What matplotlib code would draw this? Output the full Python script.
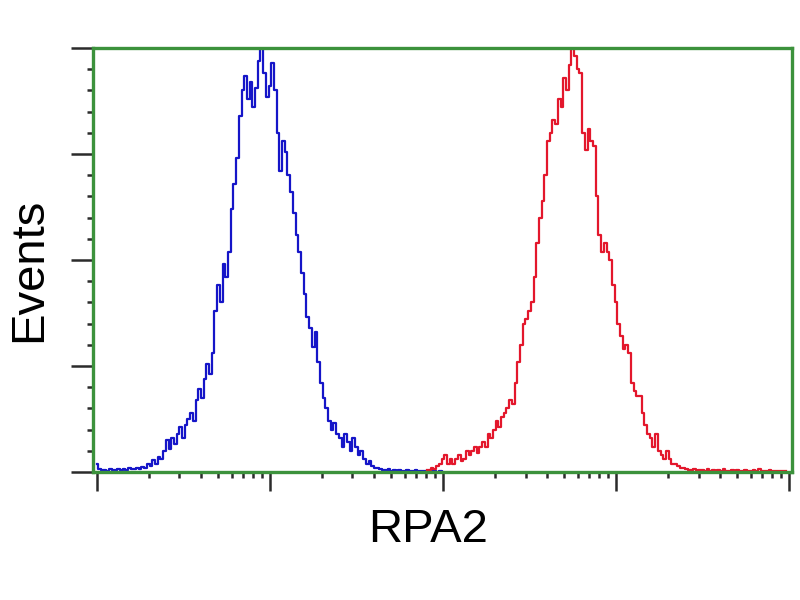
import numpy as np
import matplotlib
matplotlib.use('Agg')
import matplotlib.pyplot as plt
from matplotlib.ticker import LogLocator, MultipleLocator, NullFormatter

# histogram channels (256 channels over 4 decades)
blue_start = 0
blue_counts = [
    2.0, 0.8, 0.4, 0.5, 0.3, 0.6, 0.4, 0.5, 0.8, 0.4,
    0.6, 0.5, 0.9, 0.6, 0.8, 1.0, 0.7, 1.2, 1.0, 2.0,
    1.5, 2.8, 2.0, 3.5, 3.0, 5.0, 7.5, 5.5, 8.0, 6.5,
    9.0, 10.5, 8.0, 11.0, 12.5, 14.0, 12.0, 17.0, 19.5, 17.5,
    22.0, 25.5, 23.0, 28.0, 38.0, 44.0, 40.0, 49.0, 46.0, 52.0,
    62.0, 68.0, 74.0, 84.0, 90.0, 93.5, 88.0, 92.0, 86.0, 90.5,
    97.0, 100.0, 94.0, 88.5, 91.0, 96.5, 90.0, 80.0, 71.0, 78.0,
    75.5, 70.0, 66.0, 61.0, 56.0, 52.0, 47.0, 42.0, 36.5, 34.0,
    29.5, 33.0, 26.0, 21.0, 17.5, 15.0, 12.0, 10.0, 11.5, 9.0,
    8.0, 6.0, 9.0, 7.0, 5.0, 8.0, 6.0, 4.0, 5.0, 3.0,
    2.0, 2.5, 1.5, 1.0, 1.0, 0.8, 0.5, 0.4, 0.6, 0.3,
    0.5, 0.3, 0.4, 0.2, 0.3, 0.4, 0.2, 0.3, 0.5, 0.2,
    0.3, 0.2, 0.3, 0.2, 0.1, 0.2, 0.1, 0.2, 0.1,
]

red_start = 122
red_counts = [
    0.5, 0.4, 1.0, 0.8, 1.5, 2.0, 3.0, 4.0, 2.0, 3.0,
    2.0, 3.0, 4.0, 2.5, 3.0, 5.0, 4.0, 5.0, 6.0, 4.5,
    6.0, 7.0, 6.0, 9.0, 8.0, 10.0, 12.0, 10.5, 13.0, 14.0,
    15.0, 17.0, 16.0, 21.0, 26.0, 30.0, 35.0, 36.0, 38.0, 40.0,
    46.0, 54.0, 60.0, 64.0, 70.0, 78.0, 80.0, 83.0, 82.0, 88.0,
    86.0, 93.0, 90.0, 96.0, 100.0, 98.0, 95.0, 94.0, 80.0, 76.0,
    81.0, 78.0, 77.0, 65.0, 56.0, 52.0, 54.0, 52.0, 50.0, 44.0,
    40.0, 35.0, 32.0, 29.0, 30.0, 28.0, 21.0, 19.0, 18.0, 18.0,
    14.0, 11.0, 9.0, 8.0, 6.0, 9.0, 5.0, 4.0, 3.0, 5.0,
    3.0, 2.0, 2.0, 1.5, 1.0, 1.0, 0.8, 0.5, 0.4, 0.6,
    0.3, 0.5, 0.4, 0.2, 0.6, 0.3, 0.5, 0.2, 0.4, 0.3,
    0.6, 0.2, 0.3, 0.5, 0.2, 0.4, 0.3, 0.2, 0.5, 0.3,
    0.2, 0.4, 0.3, 0.6, 0.2, 0.3, 0.2, 0.4, 0.3, 0.2,
    0.3, 0.2, 0.3, 0.2,
]

def chan_to_val(c):
    return 10 ** (np.asarray(c) / 64.0)

blue_x = chan_to_val(np.arange(len(blue_counts)) + blue_start)
red_x = chan_to_val(np.arange(len(red_counts)) + red_start)

fig = plt.figure(figsize=(8, 6), dpi=100)
ax = fig.add_axes([0.116, 0.2133, 0.874, 0.7067])

ax.plot(blue_x, blue_counts, drawstyle='steps-mid', color='#1515c8', lw=1.6)
ax.plot(red_x, red_counts, drawstyle='steps-mid', color='#e3172c', lw=1.6)

ax.set_xscale('log')
ax.set_xlim(chan_to_val(-1.5), chan_to_val(257.1))
ax.set_ylim(0, 100)

ax.xaxis.set_major_locator(LogLocator(base=10))
ax.xaxis.set_minor_locator(LogLocator(base=10, subs=np.arange(2, 10)))
ax.xaxis.set_major_formatter(NullFormatter())
ax.xaxis.set_minor_formatter(NullFormatter())
ax.yaxis.set_major_locator(MultipleLocator(25))
ax.yaxis.set_minor_locator(MultipleLocator(5))
ax.yaxis.set_major_formatter(NullFormatter())

ax.tick_params(axis='x', which='major', direction='out', length=14, width=1.8, color='#2b2b2b')
ax.tick_params(axis='y', which='major', direction='out', length=16, width=1.8, color='#2b2b2b')
ax.tick_params(which='minor', direction='out', length=4.5, width=1.8, color='#2b2b2b')
ax.tick_params(top=False, right=False)

for s in ax.spines.values():
    s.set_color('#3c923c')
    s.set_linewidth(2.4)

fig.text(0.535, 0.117, 'RPA2', ha='center', va='center', fontsize=34,
         family='Liberation Sans')
fig.text(0.036, 0.55, 'Events', ha='center', va='center', fontsize=34,
         rotation=90, family='Liberation Sans')

plt.savefig('out.png', dpi=100)
